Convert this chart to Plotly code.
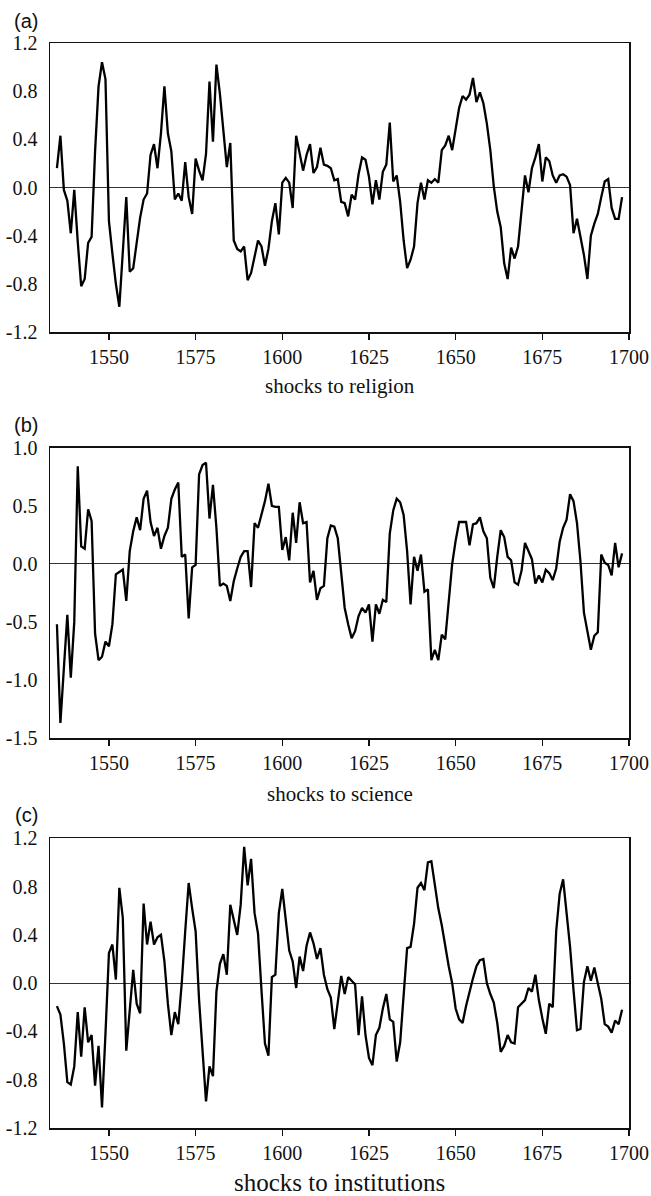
import plotly.graph_objects as go

years = list(range(1535, 1699))

religion = [0.16, 0.43, -0.02, -0.11, -0.38, -0.02, -0.45, -0.82, -0.76, -0.46,
            -0.41, 0.30, 0.84, 1.04, 0.90, -0.28, -0.55, -0.80, -0.99, -0.55,
            -0.08, -0.70, -0.67, -0.46, -0.25, -0.10, -0.05, 0.27, 0.36, 0.16,
            0.45, 0.84, 0.45, 0.30, -0.10, -0.05, -0.11, 0.21, -0.08, -0.22,
            0.24, 0.14, 0.06, 0.28, 0.88, 0.38, 1.02, 0.78, 0.49, 0.17,
            0.37, -0.44, -0.51, -0.53, -0.49, -0.77, -0.71, -0.58, -0.44, -0.49,
            -0.65, -0.51, -0.28, -0.13, -0.39, 0.04, 0.08, 0.04, -0.17, 0.43,
            0.28, 0.14, 0.27, 0.36, 0.12, 0.17, 0.33, 0.19, 0.18, 0.16,
            0.06, 0.07, -0.12, -0.13, -0.24, -0.06, -0.10, 0.11, 0.25, 0.23,
            0.09, -0.14, 0.06, -0.10, 0.13, 0.19, 0.54, 0.05, 0.10, -0.12,
            -0.44, -0.67, -0.60, -0.49, -0.13, 0.04, -0.10, 0.06, 0.04, 0.07,
            0.04, 0.31, 0.35, 0.43, 0.31, 0.49, 0.66, 0.76, 0.73, 0.77,
            0.91, 0.71, 0.79, 0.70, 0.53, 0.31, 0.01, -0.20, -0.33, -0.63,
            -0.76, -0.50, -0.59, -0.49, -0.22, 0.10, -0.04, 0.16, 0.25, 0.36,
            0.05, 0.25, 0.22, 0.10, 0.04, 0.10, 0.11, 0.09, 0.02, -0.38,
            -0.26, -0.41, -0.56, -0.76, -0.40, -0.30, -0.22, -0.08, 0.05, 0.07,
            -0.17, -0.26, -0.26, -0.08]

science = [-0.52, -1.37, -0.90, -0.44, -0.98, -0.50, 0.84, 0.15, 0.13, 0.47,
           0.37, -0.60, -0.83, -0.80, -0.67, -0.71, -0.52, -0.09, -0.07, -0.05,
           -0.32, 0.11, 0.28, 0.40, 0.29, 0.56, 0.63, 0.36, 0.24, 0.31,
           0.13, 0.24, 0.31, 0.56, 0.64, 0.70, 0.06, 0.08, -0.47, -0.03,
           -0.01, 0.77, 0.85, 0.87, 0.39, 0.68, 0.31, -0.19, -0.17, -0.19,
           -0.32, -0.15, -0.04, 0.06, 0.11, 0.11, -0.20, 0.35, 0.31, 0.42,
           0.54, 0.69, 0.50, 0.49, 0.49, 0.12, 0.23, 0.03, 0.44, 0.18,
           0.53, 0.35, 0.36, -0.16, -0.06, -0.31, -0.21, -0.19, 0.22, 0.33,
           0.32, 0.22, -0.07, -0.38, -0.52, -0.64, -0.58, -0.45, -0.38, -0.42,
           -0.35, -0.67, -0.35, -0.43, -0.31, -0.33, 0.26, 0.46, 0.56, 0.53,
           0.42, 0.11, -0.35, 0.06, -0.06, 0.08, -0.24, -0.22, -0.83, -0.74,
           -0.83, -0.61, -0.65, -0.30, 0.00, 0.20, 0.36, 0.36, 0.36, 0.16,
           0.34, 0.35, 0.40, 0.28, 0.22, -0.12, -0.21, 0.06, 0.29, 0.23,
           0.06, 0.03, -0.16, -0.18, -0.06, 0.18, 0.11, 0.04, -0.17, -0.10,
           -0.16, -0.05, -0.08, -0.14, -0.04, 0.19, 0.31, 0.38, 0.60, 0.54,
           0.35, 0.02, -0.42, -0.58, -0.74, -0.62, -0.59, 0.08, 0.01, -0.01,
           -0.10, 0.18, -0.03, 0.09]

institutions = [-0.19, -0.26, -0.50, -0.82, -0.84, -0.69, -0.24, -0.61, -0.20, -0.49,
                -0.43, -0.85, -0.52, -1.03, -0.42, 0.25, 0.32, 0.03, 0.79, 0.54,
                -0.56, -0.20, 0.11, -0.17, -0.25, 0.66, 0.32, 0.51, 0.32, 0.38,
                0.40, 0.18, -0.17, -0.43, -0.24, -0.34, 0.00, 0.43, 0.83, 0.62,
                0.43, -0.14, -0.61, -0.98, -0.69, -0.77, -0.07, 0.16, 0.24, 0.07,
                0.65, 0.52, 0.40, 0.65, 1.13, 0.81, 1.03, 0.58, 0.41, -0.06,
                -0.50, -0.60, 0.05, 0.07, 0.58, 0.78, 0.51, 0.27, 0.18, -0.04,
                0.22, 0.10, 0.31, 0.42, 0.33, 0.20, 0.29, 0.07, -0.05, -0.12,
                -0.38, -0.17, 0.06, -0.09, 0.05, 0.02, -0.01, -0.43, -0.11, -0.43,
                -0.62, -0.68, -0.43, -0.37, -0.21, -0.09, -0.30, -0.32, -0.65, -0.49,
                -0.07, 0.29, 0.30, 0.49, 0.79, 0.83, 0.77, 1.00, 1.01, 0.80,
                0.62, 0.48, 0.30, 0.14, 0.00, -0.21, -0.30, -0.33, -0.19, -0.07,
                0.04, 0.14, 0.19, 0.20, 0.00, -0.09, -0.16, -0.33, -0.57, -0.52,
                -0.43, -0.49, -0.50, -0.20, -0.17, -0.14, -0.04, -0.07, 0.07, -0.14,
                -0.29, -0.42, -0.17, -0.20, 0.43, 0.74, 0.86, 0.58, 0.30, -0.06,
                -0.39, -0.38, 0.01, 0.14, 0.02, 0.13, 0.01, -0.13, -0.34, -0.36,
                -0.41, -0.31, -0.34, -0.22]

x_ticks = [1550, 1575, 1600, 1625, 1650, 1675, 1700]
y_ticks_a = [-1.2, -0.8, -0.4, 0.0, 0.4, 0.8, 1.2]
y_text_a = ["-1.2", "-0.8", "-0.4", "0.0", "0.4", "0.8", "1.2"]
y_ticks_b = [-1.5, -1.0, -0.5, 0.0, 0.5, 1.0]
y_text_b = ["-1.5", "-1.0", "-0.5", "0.0", "0.5", "1.0"]

panel_labels = ["(a)", "(b)", "(c)"]
axis_titles = ["shocks to religion", "shocks to science", "shocks to institutions"]

W, H = 651, 1196
ML, MR, MT, MB = 50, 22, 43, 68
PH = H - MT - MB
PW = W - ML - MR


def py(ypx):
    return (H - MB - ypx) / PH


def px(xpx):
    return (xpx - ML) / PW


serif = "Liberation Serif"
sans = "Liberation Sans"

fig = go.Figure()
series = [religion, science, institutions]
domains = [(py(332), 1.0), (py(738), py(447.7)), (0.0, py(838.3))]
yranges = [[-1.2, 1.2], [-1.5, 1.0], [-1.2, 1.2]]
yticks = [(y_ticks_a, y_text_a), (y_ticks_b, y_text_b), (y_ticks_a, y_text_a)]

for i, s in enumerate(series):
    n = "" if i == 0 else str(i + 1)
    fig.add_trace(go.Scatter(x=years, y=s, mode="lines",
                             line=dict(color="black", width=2.3),
                             xaxis="x" + n, yaxis="y" + n, showlegend=False,
                             hoverinfo="skip"))
    fig.update_layout(**{
        "xaxis" + n: dict(domain=[0, 1], range=[1533, 1700], anchor="y" + n,
                          automargin=False,
                          tickvals=x_ticks, ticks="outside", ticklen=6, tickwidth=1.5,
                          tickcolor="#111", showline=True, mirror=True, linecolor="#111",
                          linewidth=1.5, showgrid=False, zeroline=False,
                          tickfont=dict(family=serif, size=20, color="#111")),
        "yaxis" + n: dict(domain=list(domains[i]), range=yranges[i], anchor="x" + n,
                          automargin=False,
                          tickvals=yticks[i][0], ticktext=yticks[i][1],
                          ticks="outside", ticklen=7, tickcolor="rgba(0,0,0,0)",
                          showline=True, mirror=True, linecolor="#111", linewidth=1.5,
                          showgrid=False, zeroline=True, zerolinecolor="#333",
                          zerolinewidth=1,
                          tickfont=dict(family=serif, size=20, color="#111")),
    })

annotations = []
label_y = [21, 425, 815]
title_y = [386, 794, 1182]
title_size = [21, 21, 25]
for i in range(3):
    annotations.append(dict(text=panel_labels[i], xref="paper", yref="paper",
                            x=px(26), y=py(label_y[i]), xanchor="center", yanchor="middle",
                            showarrow=False, font=dict(family=sans, size=20, color="#111")))
    annotations.append(dict(text=axis_titles[i], xref="paper", yref="paper",
                            x=0.5, y=py(title_y[i]), xanchor="center", yanchor="middle",
                            showarrow=False,
                            font=dict(family=serif, size=title_size[i], color="#111")))

fig.update_layout(width=W, height=H, margin=dict(l=ML, r=MR, t=MT, b=MB),
                  paper_bgcolor="white", plot_bgcolor="white",
                  font=dict(family=serif, color="#111"),
                  hovermode=False,
                  annotations=annotations)

fig.write_html("out.html",
               config={"displayModeBar": False, "staticPlot": True},
               post_script="document.body.style.margin='0px';"
                           "document.body.style.overflow='hidden';")
